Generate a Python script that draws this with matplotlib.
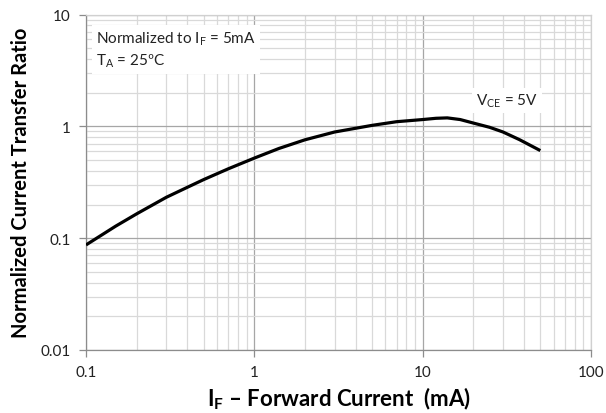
import matplotlib
matplotlib.use("Agg")
import matplotlib.pyplot as plt
from matplotlib.ticker import LogLocator, FixedLocator, NullFormatter

plt.rcParams['font.family'] = ['Lato', 'DejaVu Sans']
plt.rcParams['mathtext.fontset'] = 'custom'
plt.rcParams['mathtext.rm'] = 'Lato'
plt.rcParams['mathtext.it'] = 'Lato:italic'
plt.rcParams['mathtext.bf'] = 'Lato:bold'

# Data
if_ma = [0.1, 0.15, 0.2, 0.3, 0.4, 0.5, 0.7, 1, 1.4, 2, 3, 5, 7, 10, 12,
         14, 16.7, 20, 25, 30, 37.6, 50]
ctr = [0.087, 0.128, 0.165, 0.232, 0.285, 0.334, 0.417, 0.52, 0.634, 0.758, 0.89,
       1.02, 1.10, 1.15, 1.18, 1.19, 1.15, 1.07, 0.98, 0.89, 0.76, 0.607]
x_ticks = [0.1, 1, 10, 100]
x_labels = ['0.1', '1', '10', '100']
y_ticks = [0.01, 0.1, 1, 10]
y_labels = ['0.01', '0.1', '1', '10']

fig = plt.figure(figsize=(6.06, 4.14), dpi=100)
ax = fig.add_axes([86/606, 1-351/414, (591-86)/606, (351-15.5)/414])

ax.set_xscale('log')
ax.set_yscale('log')
ax.set_xlim(0.1, 100)
ax.set_ylim(0.01, 10)

ax.xaxis.set_major_locator(FixedLocator(x_ticks))
ax.yaxis.set_major_locator(FixedLocator(y_ticks))
ax.set_xticklabels(x_labels)
ax.set_yticklabels(y_labels)
ax.xaxis.set_minor_locator(LogLocator(base=10, subs=range(2, 10), numticks=20))
ax.yaxis.set_minor_locator(LogLocator(base=10, subs=range(2, 10), numticks=20))
ax.xaxis.set_minor_formatter(NullFormatter())
ax.yaxis.set_minor_formatter(NullFormatter())

ax.grid(which='major', color='#a6a6a6', linewidth=0.9)
ax.grid(which='minor', color='#d9d9d9', linewidth=0.9)
ax.set_axisbelow(True)

ax.tick_params(which='major', direction='out', length=5, width=0.9, color='#8c8c8c',
               labelsize=11, labelcolor='#222222', pad=6)
ax.tick_params(which='minor', length=0)

for s in ['left', 'bottom']:
    ax.spines[s].set_color('#8c8c8c')
    ax.spines[s].set_linewidth(0.9)
for s in ['top', 'right']:
    ax.spines[s].set_color('#d0d0d0')
    ax.spines[s].set_linewidth(0.9)

ax.plot(if_ma, ctr, color='black', linewidth=2.3, solid_capstyle='butt',
        solid_joinstyle='round', zorder=3)

ax.text(0.02, 0.955, 'Normalized to I$_\\mathregular{F}$ = 5mA\nT$_\\mathregular{A}$ = 25ºC',
        transform=ax.transAxes, fontsize=11, va='top', ha='left', color='#222222',
        linespacing=1.35,
        bbox=dict(boxstyle='square,pad=0.3', facecolor='white', edgecolor='none'), zorder=4)
ax.text(0.772, 0.745, 'V$_\\mathregular{CE}$ = 5V', transform=ax.transAxes, fontsize=11,
        va='center', ha='left', color='#222222',
        bbox=dict(boxstyle='square,pad=0.25', facecolor='white', edgecolor='none'), zorder=4)

ax.set_xlabel('$\\mathbf{I_F}$ – Forward Current  (mA)', fontsize=16, fontweight='bold',
              labelpad=4)
ax.set_ylabel('Normalized Current Transfer Ratio', fontsize=14.5, fontweight='bold',
              labelpad=7)

fig.savefig('out.png', dpi=100)
